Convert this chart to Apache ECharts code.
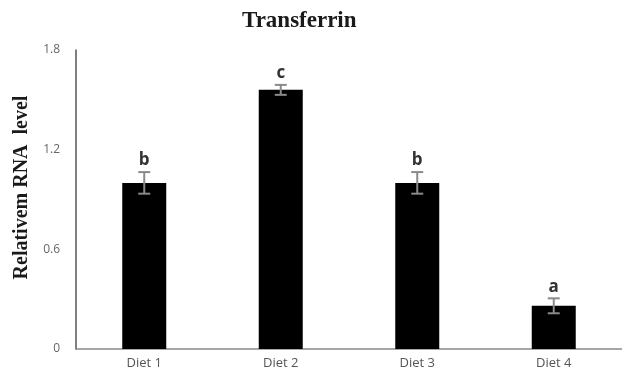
<!DOCTYPE html>
<html>
<head>
<meta charset="utf-8">
<script src="https://cdn.jsdelivr.net/npm/echarts@6/dist/echarts.min.js"></script>
<style>html,body{margin:0;padding:0;background:#fff}#c{width:622px;height:376px}</style>
</head>
<body>
<div id="c"></div>
<script>
const categories = ['Diet 1', 'Diet 2', 'Diet 3', 'Diet 4'];
const means = [1.0, 1.56, 1.0, 0.26];
const errors = [0.065, 0.03, 0.065, 0.045];
const letters = ['b', 'c', 'b', 'a'];
const yTicks = [0, 0.6, 1.2, 1.8];

const chart = echarts.init(document.getElementById('c'));
const errData = categories.map((c, i) => [i, means[i], errors[i], letters[i]]);

chart.setOption({
  animation: false,
  title: {
    text: 'Transferrin', left: 237, top: 5,
    textStyle: { fontFamily: 'Liberation Serif', fontWeight: 'bold', fontSize: 23, color: '#1a1a1a' }
  },
  grid: { left: 76, right: -2, top: 50, bottom: 27 },
  xAxis: {
    type: 'category', data: categories,
    axisLine: { lineStyle: { color: '#8a8a8a', width: 1.5 } },
    axisTick: { show: false },
    axisLabel: { color: '#555', fontFamily: 'Open Sans', fontSize: 13, margin: 8 }
  },
  yAxis: {
    type: 'value', min: 0, max: 1.8, interval: 0.6,
    name: 'Relativem RNA  level', nameLocation: 'middle', nameGap: 44,
    nameTextStyle: { fontFamily: 'Liberation Serif', fontWeight: 'bold', fontSize: 20, color: '#1a1a1a', padding: [0, 0, 0, 24] },
    axisLine: { show: true, lineStyle: { color: '#555', width: 1.5 } },
    axisTick: { show: false },
    splitLine: { show: false },
    axisLabel: {
      color: '#666', fontFamily: 'Open Sans', fontSize: 12, margin: 16,
      formatter: v => (yTicks.includes(Math.round(v * 10) / 10) ? String(Math.round(v * 10) / 10) : '')
    }
  },
  series: [
    {
      type: 'bar', data: means, barWidth: 44,
      itemStyle: { color: '#000' }
    },
    {
      type: 'custom', data: errData, z: 10,
      renderItem: function (params, api) {
        const x = api.coord([api.value(0), 0])[0];
        const top = api.coord([api.value(0), api.value(1) + api.value(2)])[1];
        const bot = api.coord([api.value(0), api.value(1) - api.value(2)])[1];
        const hw = 6;
        const st = { stroke: '#8a8a8a', lineWidth: 2 };
        return {
          type: 'group',
          children: [
            { type: 'line', shape: { x1: x, y1: top, x2: x, y2: bot }, style: st },
            { type: 'line', shape: { x1: x - hw, y1: top, x2: x + hw, y2: top }, style: st },
            { type: 'line', shape: { x1: x - hw, y1: bot, x2: x + hw, y2: bot }, style: st },
            { type: 'text', style: { text: letters[params.dataIndex], x: x, y: top - 3, align: 'center', verticalAlign: 'bottom',
                fontFamily: 'Open Sans', fontWeight: 'bold', fontSize: 17, fill: '#333' } }
          ]
        };
      }
    }
  ]
});
</script>
</body>
</html>
